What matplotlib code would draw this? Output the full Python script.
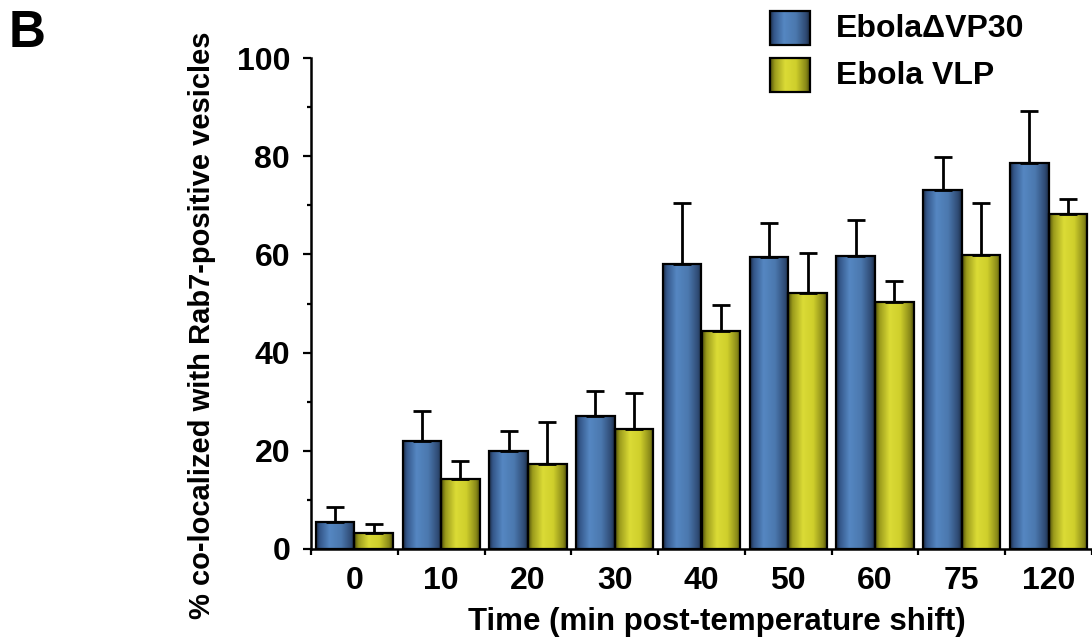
import numpy as np
import matplotlib
matplotlib.use("Agg")
import matplotlib.pyplot as plt
from matplotlib.ticker import MultipleLocator
from matplotlib.colors import LinearSegmentedColormap
from matplotlib.patches import Rectangle

# ---- data ----
categories = ["0", "10", "20", "30", "40", "50", "60", "75", "120"]
delta_vp30 = [5.5, 22.0, 20.0, 27.1, 58.0, 59.5, 59.7, 73.1, 78.6]
delta_vp30_err = [3.0, 6.2, 4.0, 5.1, 12.5, 6.9, 7.3, 6.7, 10.6]
vlp = [3.3, 14.3, 17.3, 24.4, 44.4, 52.1, 50.3, 59.9, 68.2]
vlp_err = [1.8, 3.7, 8.6, 7.4, 5.3, 8.2, 4.3, 10.6, 3.1]
series_names = ["Ebola\u0394VP30", "Ebola VLP"]
ylabel = "% co-localized with Rab7-positive vesicles"
xlabel = "Time (min post-temperature shift)"

plt.rcParams['font.family'] = ['Liberation Sans', 'DejaVu Sans']
plt.rcParams['font.weight'] = 'bold'

blue_cmap = LinearSegmentedColormap.from_list(
    "blue", [(0.0, "#1c2c46"), (0.10, "#34578a"), (0.35, "#5587c2"),
             (0.65, "#4b78ae"), (0.90, "#2f4b74"), (1.0, "#1c2c46")])
yellow_cmap = LinearSegmentedColormap.from_list(
    "yellow", [(0.0, "#4e4e0a"), (0.12, "#9c9c1c"), (0.38, "#dbdb36"),
               (0.65, "#cfcf2c"), (0.90, "#8a8a18"), (1.0, "#4e4e0a")])

W, H = 1092, 643
fig = plt.figure(figsize=(W / 100, H / 100), dpi=100)
ax = fig.add_axes([311 / W, (H - 549) / H, (W - 311) / W, (549 - 58) / H])

n = len(categories)
x = np.arange(n)
bw = 0.445
grad = np.linspace(0, 1, 256).reshape(1, -1)


def shaded_bars(xpos, vals, errs, cmap):
    bars = ax.bar(xpos, vals, width=bw, facecolor="none", edgecolor="black",
                  linewidth=1.6, zorder=3)
    for b in bars:
        im = ax.imshow(grad, cmap=cmap, aspect="auto", interpolation="bilinear",
                       extent=(b.get_x(), b.get_x() + b.get_width(), 0, b.get_height()),
                       zorder=2)
        im.set_clip_path(b)
    ax.errorbar(xpos, vals, yerr=[np.zeros(len(vals)), errs], fmt="none",
                ecolor="black", elinewidth=2.0, capsize=6.5, capthick=2.0, zorder=4)
    return bars


shaded_bars(x - bw / 2, delta_vp30, delta_vp30_err, blue_cmap)
shaded_bars(x + bw / 2, vlp, vlp_err, yellow_cmap)

ax.set_xlim(-0.5, -0.5 + (W - 311) / 87.4)
ax.set_ylim(0, 100)

for s in ["top", "right"]:
    ax.spines[s].set_visible(False)
for s in ["left", "bottom"]:
    ax.spines[s].set_linewidth(1.8)

ax.yaxis.set_major_locator(MultipleLocator(20))
ax.yaxis.set_minor_locator(MultipleLocator(10))
ax.tick_params(axis="y", which="major", length=6, width=1.6, pad=9, labelsize=23)
ax.tick_params(axis="y", which="minor", length=3, width=1.6)

ax.set_xticks(np.arange(n + 1) - 0.5)
ax.set_xticklabels([])
ax.set_xticks(x, minor=True)
ax.set_xticklabels(categories, minor=True)
ax.tick_params(axis="x", which="major", length=4, width=1.6)
ax.tick_params(axis="x", which="minor", length=0, pad=12, labelsize=23)
for lab in ax.get_yticklabels() + ax.get_xticklabels(minor=True):
    lab.set_fontweight("bold")

ax.set_ylabel(ylabel, fontsize=21, fontweight="bold")
ax.yaxis.set_label_coords(-0.121, 0.455)
ax.set_xlabel(xlabel, fontsize=22.5, fontweight="bold")
ax.xaxis.set_label_coords(0.52, -0.118)

# panel letter
fig.text(9 / W, 1 - 47 / H, "B", fontsize=37, fontweight="bold", ha="left", va="baseline")

# legend (manual, with shaded swatches)
lax = fig.add_axes([0, 0, 1, 1], zorder=10)
lax.set_xlim(0, W)
lax.set_ylim(H, 0)
lax.axis("off")
for i, (name, cmap) in enumerate(zip(series_names, [blue_cmap, yellow_cmap])):
    y0 = 11 + i * 47
    rect = Rectangle((770, y0), 40, 34, facecolor="none", edgecolor="black", linewidth=1.6, zorder=3)
    lax.add_patch(rect)
    im = lax.imshow(grad, cmap=cmap, aspect="auto", interpolation="bilinear",
                    extent=(770, 810, y0 + 34, y0), zorder=2)
    im.set_clip_path(rect)
    lax.text(836, y0 + 18, name, fontsize=23, fontweight="bold", va="center", ha="left")

fig.savefig("out.png", dpi=100)
